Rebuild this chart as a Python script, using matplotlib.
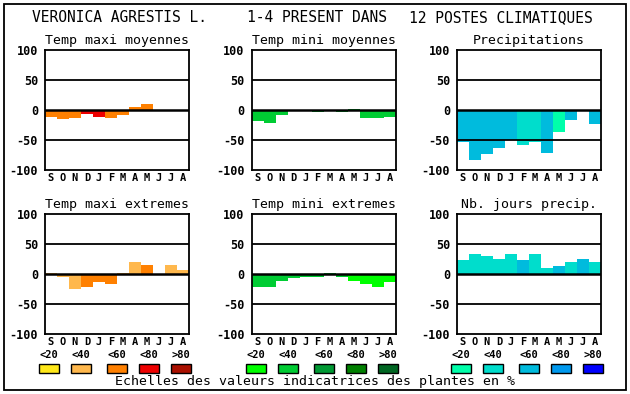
import matplotlib
matplotlib.use("Agg")
import matplotlib.pyplot as plt
from matplotlib.patches import Rectangle

plt.rcParams['font.family'] = ['DejaVu Sans Mono']

months = ['S', 'O', 'N', 'D', 'J', 'F', 'M', 'A', 'M', 'J', 'J', 'A']
classes = ['<20', '<40', '<60', '<80', '>80']

warm = ['#ffe81a', '#ffb84d', '#ff8000', '#ee0000', '#aa1000']
green = ['#00ff00', '#00cc33', '#009933', '#008000', '#006622']
blue = ['#00ffaa', '#00ddcc', '#00bbdd', '#0099ee', '#0000ff']

titles = ['Temp maxi moyennes', 'Temp mini moyennes', 'Precipitations',
          'Temp maxi extremes', 'Temp mini extremes', 'Nb. jours precip.']

tmax_moy = [-11, -15.5, -13, -6, -11, -13, -8, 5, 10, -2, 0, -2]
tmax_moy_cls = [3, 3, 3, 4, 4, 3, 3, 3, 3, 3, 3, 3]
tmin_moy = [-18, -21, -8, -2, -2, -4, 0, -4, 2, -13, -14, -11]
tmin_moy_cls = [2] * 12
precip = [-53, -83, -73, -64, -50, -58, -53, -71, -36, -16, 0, -23]
precip_cls = [3, 3, 3, 3, 3, 2, 2, 3, 1, 3, 3, 3]
tmax_ext = [2, -5.5, -25.5, -22, -14, -17, 2, 20, 15.5, -2, 15.5, 7]
tmax_ext_cls = [2, 2, 2, 3, 3, 3, 2, 2, 3, 2, 2, 2]
tmin_ext = [-21, -21, -12, -7, -5.5, -5.5, 2, -5.5, -12, -17, -22, -14]
tmin_ext_cls = [2, 2, 2, 2, 2, 2, 2, 2, 1, 1, 1, 1]
nb_jours = [24, 34, 30.5, 25.5, 34, 24, 34, 10.5, 14, 20.5, 25.5, 20.5]
nb_jours_cls = [2, 2, 2, 2, 2, 3, 2, 2, 3, 2, 3, 2]

panels = [(tmax_moy, tmax_moy_cls, warm), (tmin_moy, tmin_moy_cls, green),
          (precip, precip_cls, blue), (tmax_ext, tmax_ext_cls, warm),
          (tmin_ext, tmin_ext_cls, green), (nb_jours, nb_jours_cls, blue)]

W, H = 630, 394
fig = plt.figure(figsize=(W / 100, H / 100), dpi=100)

lefts = [45, 251.5, 457]
tops = [50, 214]
pw, ph = 144, 120

for i, (vals, cls, pal) in enumerate(panels):
    L = lefts[i % 3]
    T = tops[i // 3]
    ax = fig.add_axes([L / W, 1 - (T + ph) / H, pw / W, ph / H])
    cols = [pal[c - 1] for c in cls]
    ax.bar(range(12), vals, width=1.0, color=cols, align='edge', zorder=1)
    ax.set_xlim(0, 12)
    ax.set_ylim(-100, 100)
    for y, lw in [(50, 1.3), (-50, 1.3), (0, 1.8)]:
        ax.axhline(y, color='black', lw=lw, zorder=2)
    ax.set_yticks([100, 50, 0, -50, -100])
    ax.set_yticklabels(['100', '50', '0', '-50', '-100'], fontsize=8.5, fontweight='bold')
    ax.set_xticks([k + 0.5 for k in range(12)])
    ax.set_xticklabels(months, fontsize=7.5, fontweight='bold')
    ax.tick_params(length=0, pad=5)
    ax.tick_params(axis='x', pad=2)
    for s in ax.spines.values():
        s.set_linewidth(1.3)
    ax.set_title(titles[i], fontsize=9.5, pad=4)

# title line
fig.text(32 / W, 1 - 18 / H, 'VERONICA AGRESTIS L.', fontsize=10.5, va='center', ha='left')
fig.text(247 / W, 1 - 18 / H, '1-4 PRESENT DANS', fontsize=10.5, va='center', ha='left')
fig.text(409 / W, 1 - 18 / H, '12 POSTES CLIMATIQUES', fontsize=10.5, va='center', ha='left')

# legends
offs = [-6, 26, 62, 94, 126]
for j, pal in enumerate([warm, green, blue]):
    L = lefts[j]
    for k in range(5):
        x0 = L + offs[k]
        fig.text((x0 + 10) / W, 1 - 355 / H, classes[k], fontsize=7.5,
                 fontweight='bold', ha='center', va='center')
        fig.patches.append(Rectangle((x0 / W, 1 - 373 / H), 20 / W, 9 / H,
                                     transform=fig.transFigure, facecolor=pal[k],
                                     edgecolor='black', lw=1.0))

fig.text(315 / W, 1 - 382 / H, 'Echelles des valeurs indicatrices des plantes en %',
         fontsize=9.5, ha='center', va='center')

fig.patches.append(Rectangle((4 / W, 1 - 390 / H), 622 / W, 386 / H,
                             transform=fig.transFigure, facecolor='none',
                             edgecolor='black', lw=1.3))

fig.savefig('out.png', dpi=100)
